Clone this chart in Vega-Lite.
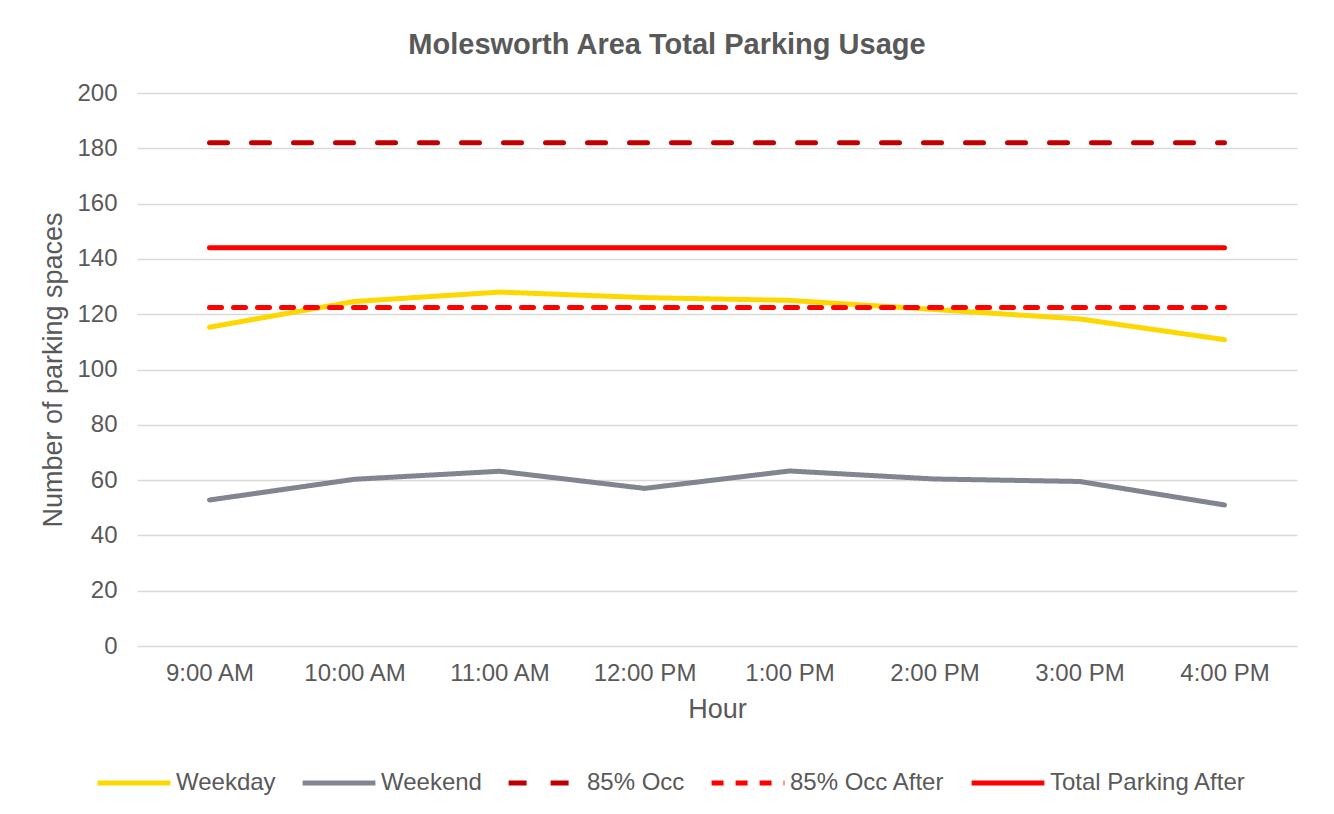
{
  "$schema": "https://vega.github.io/schema/vega-lite/v6.json",
  "width": 1160,
  "height": 553,
  "autosize": {"type": "none"},
  "padding": {"left": 137, "top": 93, "right": 37, "bottom": 168},
  "background": "white",
  "title": {
    "text": "Molesworth Area Total Parking Usage",
    "fontSize": 29,
    "font": "Liberation Sans",
    "fontWeight": "bold",
    "color": "#595959",
    "anchor": "middle",
    "dx": -50,
    "offset": 21
  },
  "config": {
    "view": {"stroke": null},
    "font": "Liberation Sans",
    "axis": {
      "labelColor": "#595959",
      "titleColor": "#595959",
      "labelFont": "Liberation Sans",
      "titleFont": "Liberation Sans",
      "labelFontSize": 24,
      "titleFontSize": 27,
      "titleFontWeight": "normal",
      "gridColor": "#d9d9d9",
      "gridWidth": 1.5,
      "ticks": false,
      "domain": false
    }
  },
  "data": {
    "values": [
      {"hour": "9:00 AM", "series": "Weekday", "value": 115.3},
      {"hour": "10:00 AM", "series": "Weekday", "value": 124.6},
      {"hour": "11:00 AM", "series": "Weekday", "value": 128},
      {"hour": "12:00 PM", "series": "Weekday", "value": 126},
      {"hour": "1:00 PM", "series": "Weekday", "value": 125},
      {"hour": "2:00 PM", "series": "Weekday", "value": 121.7},
      {"hour": "3:00 PM", "series": "Weekday", "value": 118.3},
      {"hour": "4:00 PM", "series": "Weekday", "value": 110.8},
      {"hour": "9:00 AM", "series": "Weekend", "value": 52.8},
      {"hour": "10:00 AM", "series": "Weekend", "value": 60.3},
      {"hour": "11:00 AM", "series": "Weekend", "value": 63.2},
      {"hour": "12:00 PM", "series": "Weekend", "value": 57},
      {"hour": "1:00 PM", "series": "Weekend", "value": 63.3},
      {"hour": "2:00 PM", "series": "Weekend", "value": 60.4},
      {"hour": "3:00 PM", "series": "Weekend", "value": 59.5},
      {"hour": "4:00 PM", "series": "Weekend", "value": 51},
      {"hour": "9:00 AM", "series": "85% Occ", "value": 182},
      {"hour": "10:00 AM", "series": "85% Occ", "value": 182},
      {"hour": "11:00 AM", "series": "85% Occ", "value": 182},
      {"hour": "12:00 PM", "series": "85% Occ", "value": 182},
      {"hour": "1:00 PM", "series": "85% Occ", "value": 182},
      {"hour": "2:00 PM", "series": "85% Occ", "value": 182},
      {"hour": "3:00 PM", "series": "85% Occ", "value": 182},
      {"hour": "4:00 PM", "series": "85% Occ", "value": 182},
      {"hour": "9:00 AM", "series": "85% Occ After", "value": 122.4},
      {"hour": "10:00 AM", "series": "85% Occ After", "value": 122.4},
      {"hour": "11:00 AM", "series": "85% Occ After", "value": 122.4},
      {"hour": "12:00 PM", "series": "85% Occ After", "value": 122.4},
      {"hour": "1:00 PM", "series": "85% Occ After", "value": 122.4},
      {"hour": "2:00 PM", "series": "85% Occ After", "value": 122.4},
      {"hour": "3:00 PM", "series": "85% Occ After", "value": 122.4},
      {"hour": "4:00 PM", "series": "85% Occ After", "value": 122.4},
      {"hour": "9:00 AM", "series": "Total Parking After", "value": 144},
      {"hour": "10:00 AM", "series": "Total Parking After", "value": 144},
      {"hour": "11:00 AM", "series": "Total Parking After", "value": 144},
      {"hour": "12:00 PM", "series": "Total Parking After", "value": 144},
      {"hour": "1:00 PM", "series": "Total Parking After", "value": 144},
      {"hour": "2:00 PM", "series": "Total Parking After", "value": 144},
      {"hour": "3:00 PM", "series": "Total Parking After", "value": 144},
      {"hour": "4:00 PM", "series": "Total Parking After", "value": 144}
    ]
  },
  "mark": {"type": "line", "strokeWidth": 5, "strokeCap": "round", "strokeJoin": "round"},
  "encoding": {
    "x": {
      "field": "hour",
      "type": "ordinal",
      "sort": null,
      "scale": {"type": "point", "padding": 0.5},
      "axis": {"title": "Hour", "labelAngle": 0, "labelPadding": 15, "titlePadding": 11, "grid": false}
    },
    "y": {
      "field": "value",
      "type": "quantitative",
      "scale": {"domain": [0, 200], "nice": false},
      "axis": {"title": "Number of parking spaces", "values": [0,20,40,60,80,100,120,140,160,180,200], "labelPadding": 20, "titlePadding": 9}
    },
    "color": {
      "field": "series",
      "type": "nominal",
      "scale": {
        "domain": ["Weekday", "Weekend", "85% Occ", "85% Occ After", "Total Parking After"],
        "range": ["#FFD700", "#808590", "#C00000", "#FF0000", "#FF0000"]
      },
      "legend": {
        "title": null,
        "orient": "none",
        "direction": "horizontal",
        "legendX": -42,
        "legendY": 651,
        "symbolType": "stroke",
        "symbolSize": 5300,
        "symbolStrokeWidth": 5,
        "labelFontSize": 24,
        "labelColor": "#595959",
        "labelFont": "Liberation Sans",
        "labelOffset": 3,
        "labelLimit": 400,
        "columnPadding": 16
      }
    },
    "strokeDash": {
      "field": "series",
      "type": "nominal",
      "scale": {
        "domain": ["Weekday", "Weekend", "85% Occ", "85% Occ After", "Total Parking After"],
        "range": [[1, 0], [1, 0], [18, 24], [12, 12], [1, 0]]
      },
      "legend": null
    }
  }
}
